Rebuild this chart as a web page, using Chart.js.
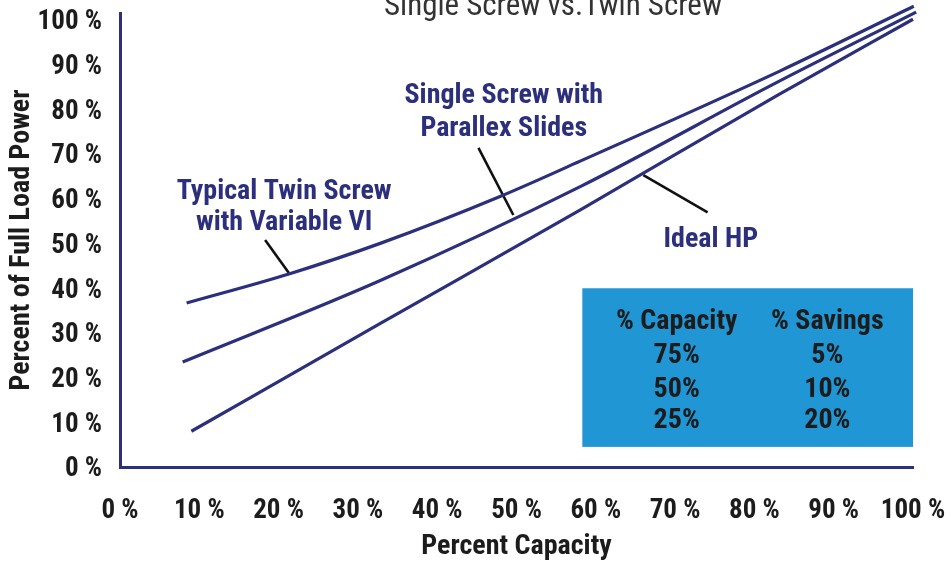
<!DOCTYPE html>
<html>
<head>
<meta charset="utf-8">
<script src="https://cdn.jsdelivr.net/npm/chart.js@4/dist/chart.umd.min.js"></script>
<style>
  html, body { margin: 0; padding: 0; background: #ffffff; }
  #wrap { position: relative; width: 951px; height: 562px; }
</style>
</head>
<body>
<div id="wrap"><canvas id="chart" width="951" height="562"></canvas></div>
<script>
// Percent capacity (x) and percent of full load power (y) tick values
const xTickValues = [0, 10, 20, 30, 40, 50, 60, 70, 80, 90, 100];
const yTickValues = [0, 10, 20, 30, 40, 50, 60, 70, 80, 90, 100];

// Curves: [capacity %, full load power %]
const idealHP = [[9, 8], [33, 32.3], [58, 57.5], [83, 83.3], [100, 100.2]];
const singleScrew = [[7.9, 23.5], [32.9, 41.8], [58.1, 62.8], [83.2, 86.4], [100.4, 101.8]];
const twinScrew = [[8.4, 36.7], [21.3, 43.2], [32.9, 50.1], [48, 60.6], [58.1, 68.5], [83.2, 88.6], [100.1, 103.1]];

// Callout leader lines, each from label to curve
const twinLeader = [[18.3, 50.8], [21.3, 43.4]];
const singleLeader = [[45.2, 71.4], [49.6, 56.4]];
const idealLeader = [[66.0, 65.3], [74.1, 57.0]];

// Savings table
const tableHeaders = ['% Capacity', '% Savings'];
const tableCapacity = ['75%', '50%', '25%'];
const tableSavings = ['5%', '10%', '20%'];

const chartTitle = 'Single Screw vs.Twin Screw';

const NAVY = '#2c2f7c';
const INK = '#1c1c1c';
const BOX_BLUE = '#2196d4';
const FAMILY = "'Liberation Sans Narrow', 'Arial Narrow', 'Roboto Condensed', sans-serif";

const toPoints = arr => arr.map(([x, y]) => ({ x, y }));

// Label text and where it sits (data units)
const callouts = [
  { lines: ['Single Screw with', 'Parallex Slides'], x: 48.4, y: 83.0, gap: 7.3 },
  { lines: ['Typical Twin Screw', 'with Variable VI'], x: 20.7, y: 61.6, gap: 7.0 },
  { lines: ['Ideal HP'], x: 74.5, y: 50.7, gap: 0 }
];
const tableBox = { x0: 58.3, x1: 100, y0: 40.0, y1: 4.5, col1: 70.2, col2: 89.2, headY: 32.4, rowY: [24.9, 17.3, 10.4] };

const overlay = {
  id: 'overlay',
  beforeDatasetsDraw(chart) {
    const { ctx } = chart;
    const x = chart.scales.x, y = chart.scales.y;
    // savings table background
    const bx0 = x.getPixelForValue(tableBox.x0), bx1 = x.getPixelForValue(tableBox.x1);
    const by0 = y.getPixelForValue(tableBox.y0), by1 = y.getPixelForValue(tableBox.y1);
    ctx.save();
    ctx.fillStyle = BOX_BLUE;
    ctx.fillRect(bx0, by0, bx1 - bx0, by1 - by0);
    ctx.fillStyle = INK;
    ctx.font = 'bold 28px ' + FAMILY;
    ctx.textAlign = 'center';
    ctx.textBaseline = 'middle';
    const c1 = x.getPixelForValue(tableBox.col1), c2 = x.getPixelForValue(tableBox.col2);
    ctx.fillText(tableHeaders[0], c1, y.getPixelForValue(tableBox.headY));
    ctx.fillText(tableHeaders[1], c2, y.getPixelForValue(tableBox.headY));
    tableCapacity.forEach((t, i) => ctx.fillText(t, c1, y.getPixelForValue(tableBox.rowY[i])));
    tableSavings.forEach((t, i) => ctx.fillText(t, c2, y.getPixelForValue(tableBox.rowY[i])));
    ctx.restore();
  },
  afterDatasetsDraw(chart) {
    const { ctx } = chart;
    const x = chart.scales.x, y = chart.scales.y;
    ctx.save();
    ctx.fillStyle = NAVY;
    ctx.font = 'bold 28px ' + FAMILY;
    ctx.textAlign = 'center';
    ctx.textBaseline = 'middle';
    callouts.forEach(c => {
      c.lines.forEach((t, i) => {
        ctx.fillText(t, x.getPixelForValue(c.x), y.getPixelForValue(c.y - i * c.gap));
      });
    });
    // chart title, partly above the canvas edge
    ctx.fillStyle = '#333333';
    ctx.font = '31px ' + FAMILY;
    ctx.textBaseline = 'alphabetic';
    ctx.fillText(chartTitle, 553, 15);
    ctx.restore();
  }
};

const curve = (data) => ({
  data: toPoints(data),
  borderColor: NAVY,
  borderWidth: 3.2,
  pointRadius: 0,
  cubicInterpolationMode: 'monotone',
  clip: false
});
const leader = (data) => ({
  data: toPoints(data),
  borderColor: '#111111',
  borderWidth: 2.6,
  pointRadius: 0,
  tension: 0,
  clip: false
});

new Chart(document.getElementById('chart'), {
  type: 'line',
  data: {
    datasets: [
      Object.assign(curve(twinScrew), { label: 'Typical Twin Screw with Variable VI' }),
      Object.assign(curve(singleScrew), { label: 'Single Screw with Parallex Slides' }),
      Object.assign(curve(idealHP), { label: 'Ideal HP' }),
      leader(twinLeader),
      leader(singleLeader),
      leader(idealLeader)
    ]
  },
  options: {
    responsive: false,
    animation: false,
    layout: { padding: { left: 0, right: 38, top: 13, bottom: 0 } },
    plugins: { legend: { display: false }, title: { display: false }, tooltip: { enabled: false } },
    scales: {
      x: {
        type: 'linear',
        min: 0,
        max: 100,
        afterFit: s => { s.height = 95; s.paddingLeft = 0; s.paddingRight = 0; },
        afterBuildTicks: s => { s.ticks = xTickValues.map(v => ({ value: v })); },
        grid: { display: false, drawTicks: false },
        border: { display: true, color: NAVY, width: 3 },
        ticks: {
          color: INK,
          padding: 28,
          maxRotation: 0,
          autoSkip: false,
          font: { family: FAMILY, size: 27, weight: 'bold' },
          callback: v => v + ' %'
        },
        title: {
          display: true,
          text: 'Percent Capacity',
          color: INK,
          font: { family: FAMILY, size: 28, weight: 'bold', lineHeight: 1 },
          padding: { top: 0, bottom: 1 }
        }
      },
      y: {
        type: 'linear',
        min: 0,
        max: 101.6,
        afterFit: s => { s.width = 120; s.paddingTop = 0; s.paddingBottom = 0; },
        afterBuildTicks: s => { s.ticks = yTickValues.map(v => ({ value: v })); },
        grid: { display: false, drawTicks: false },
        border: { display: true, color: NAVY, width: 3 },
        ticks: {
          color: INK,
          padding: 18,
          labelOffset: 2.5,
          autoSkip: false,
          font: { family: FAMILY, size: 27, weight: 'bold' },
          callback: v => v + ' %'
        },
        title: {
          display: true,
          text: 'Percent of Full Load Power',
          color: INK,
          font: { family: FAMILY, size: 28, weight: 'bold', lineHeight: 1 },
          padding: { top: 8, bottom: 0 }
        }
      }
    }
  },
  plugins: [overlay]
});
</script>
</body>
</html>
